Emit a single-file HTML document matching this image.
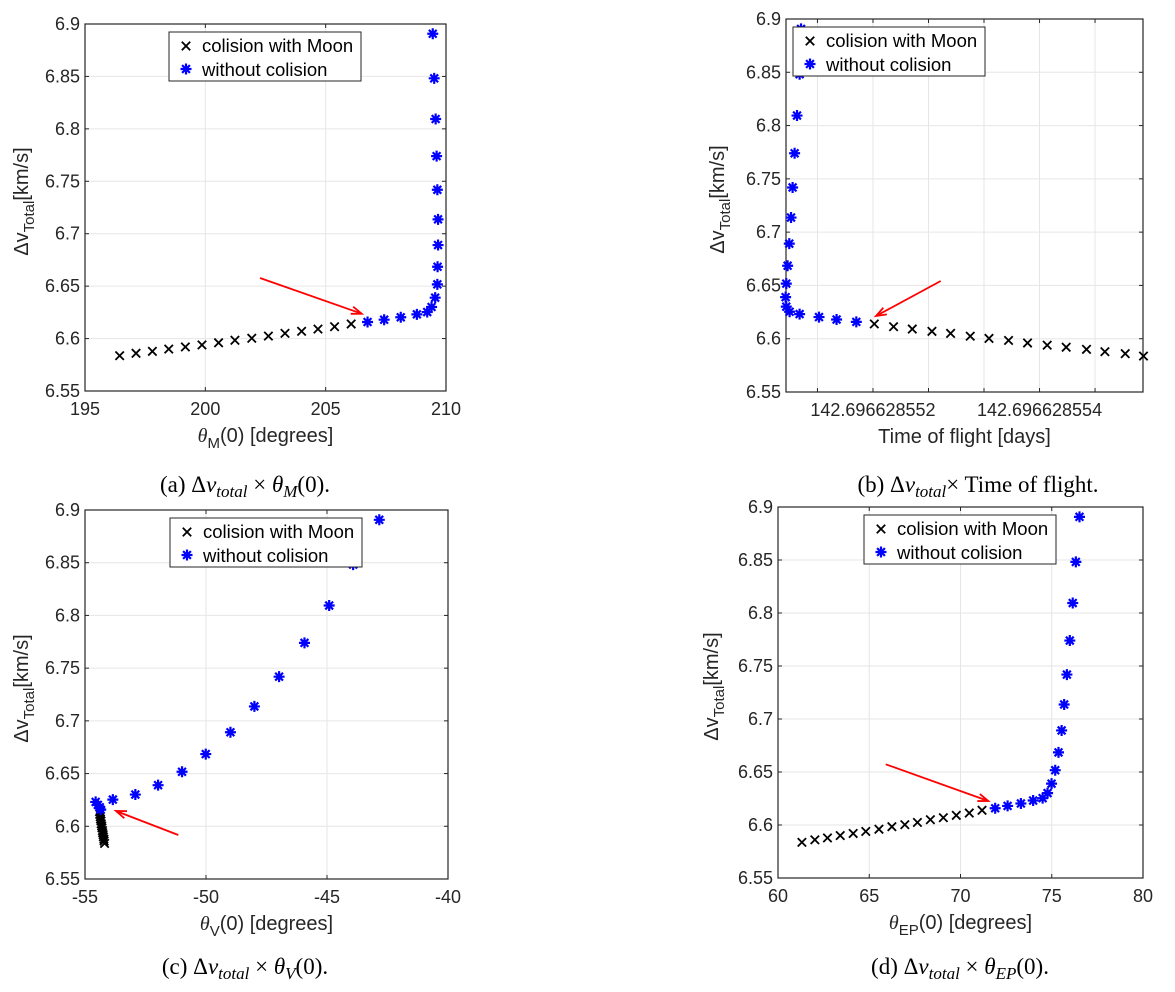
<!DOCTYPE html>
<html><head><meta charset="utf-8"><style>
body{margin:0;background:#fff;}
svg{display:block;font-family:"Liberation Sans",sans-serif;}
</style></head><body>
<svg id="fig" width="1175" height="992" viewBox="0 0 1175 992" xmlns="http://www.w3.org/2000/svg"></svg>
<script>
const yTicks = [6.55, 6.6, 6.65, 6.7, 6.75, 6.8, 6.85, 6.9];
const yTickLabels = ["6.55","6.6","6.65","6.7","6.75","6.8","6.85","6.9"];
const aColX = [196.44,197.12,197.80,198.48,199.17,199.86,200.55,201.23,201.93,202.62,203.31,204.00,204.68,205.37,206.06];
const aColY = [6.5837,6.586,6.5878,6.590,6.592,6.5939,6.596,6.5984,6.6003,6.6024,6.605,6.6069,6.6091,6.6113,6.6139];
const aFreeX = [206.74,207.43,208.12,208.79,209.22,209.40,209.55,209.64,209.65,209.67,209.67,209.64,209.61,209.57,209.51,209.45];
const aFreeY = [6.6158,6.618,6.6203,6.6231,6.6253,6.6301,6.639,6.6517,6.6685,6.6892,6.7137,6.7419,6.774,6.8094,6.8482,6.8907];
const aXTicks = [195,200,205,210];
const aXTickLabels = ["195","200","205","210"];
const bColX = [0.016,0.247,0.472,0.708,0.932,1.168,1.393,1.628,1.856,2.092,2.320,2.564,2.785,3.029,3.248];
const bColY = [6.6139,6.6113,6.6091,6.6069,6.605,6.6024,6.6003,6.5984,6.596,6.5939,6.592,6.590,6.5878,6.586,6.5837];
const bFreeX = [-0.200,-0.437,-0.648,-0.881,-1.001,-1.041,-1.049,-1.041,-1.025,-1.005,-0.984,-0.965,-0.941,-0.912,-0.881,-0.864];
const bFreeY = [6.6158,6.618,6.6203,6.6231,6.6253,6.6301,6.639,6.6517,6.6685,6.6892,6.7137,6.7419,6.774,6.8094,6.8482,6.8907];
const bXTicks = [-0.6667,0,0.6667,1.3333,2,2.6667];
const bXTickLabels = ["","142.696628552","","","142.696628554",""];
const cColX = [-54.40,-54.39,-54.37,-54.36,-54.34,-54.33,-54.31,-54.30,-54.28,-54.27,-54.25,-54.24,-54.22,-54.21,-54.19];
const cColY = [6.6139,6.6113,6.6091,6.6069,6.605,6.6024,6.6003,6.5984,6.596,6.5939,6.592,6.590,6.5878,6.586,6.5837];
const cFreeX = [-54.35,-54.39,-54.47,-54.56,-53.85,-52.92,-51.98,-50.99,-50.01,-48.99,-48.0,-46.98,-45.93,-44.91,-43.92,-42.84];
const cFreeY = [6.6158,6.618,6.6203,6.6231,6.6253,6.6301,6.639,6.6517,6.6685,6.6892,6.7137,6.7419,6.774,6.8094,6.8482,6.8907];
const cXTicks = [-55,-50,-45,-40];
const cXTickLabels = ["-55","-50","-45","-40"];
const dColX = [61.31,62.02,62.71,63.41,64.12,64.81,65.53,66.24,66.95,67.64,68.35,69.06,69.77,70.48,71.18];
const dColY = [6.5837,6.586,6.5878,6.590,6.592,6.5939,6.596,6.5984,6.6003,6.6024,6.605,6.6069,6.6091,6.6113,6.6139];
const dFreeX = [71.90,72.58,73.31,73.98,74.50,74.77,74.99,75.19,75.37,75.54,75.68,75.83,75.99,76.15,76.32,76.52];
const dFreeY = [6.6158,6.618,6.6203,6.6231,6.6253,6.6301,6.639,6.6517,6.6685,6.6892,6.7137,6.7419,6.774,6.8094,6.8482,6.8907];
const dXTicks = [60,65,70,75,80];
const dXTickLabels = ["60","65","70","75","80"];

const NS = "http://www.w3.org/2000/svg";
const svg = document.getElementById("fig");
function mk(tag, attrs, parent){
  const e = document.createElementNS(NS, tag);
  for (const k in attrs) e.setAttribute(k, attrs[k]);
  (parent||svg).appendChild(e);
  return e;
}
function xMark(g, x, y){
  const s = 4.2;
  const p = mk("path", {d:`M${x-s},${y-s}L${x+s},${y+s}M${x-s},${y+s}L${x+s},${y-s}`, stroke:"#000", "stroke-width":1.8, fill:"none"}, g);
  
  
}
function starMark(g, x, y){
  const r = 5.5, d = 3.9;
  const p = mk("path", {d:`M${x},${y-r}L${x},${y+r}M${x-r},${y}L${x+r},${y}M${x-d},${y-d}L${x+d},${y+d}M${x-d},${y+d}L${x+d},${y-d}`, stroke:"#0000ff", "stroke-width":2.2, fill:"none"}, g);
  
  
}
function panel(id, box, xmin, xmax, xTicks, xTickLabels, colX, colY, freeX, freeY, legend, arrow, ylabX, xTitle, caption){
  const g = mk("g", {});
  
  
  const sx = v => box.L + (v - xmin) / (xmax - xmin) * (box.R - box.L);
  const sy = v => box.B - (v - 6.55) / (0.35) * (box.B - box.T);
  xTicks.forEach(t => {
    const x = sx(t);
    mk("line", {x1:x, x2:x, y1:box.T, y2:box.B, stroke:"#e6e6e6", "stroke-width":1}, g);
  });
  yTicks.forEach(t => {
    const y = sy(t);
    mk("line", {x1:box.L, x2:box.R, y1:y, y2:y, stroke:"#e6e6e6", "stroke-width":1}, g);
  });
  xTicks.forEach((t,i) => {
    const x = sx(t);
    mk("line", {x1:x, x2:x, y1:box.B, y2:box.B-4, stroke:"#262626"}, g);
    mk("line", {x1:x, x2:x, y1:box.T, y2:box.T+4, stroke:"#262626"}, g);
    if (xTickLabels[i]) {
      const tx = mk("text", {x:x, y:box.B+24, "text-anchor":"middle", "font-size":18, fill:"#262626"}, g);
      tx.textContent = xTickLabels[i];
      
      
    }
  });
  yTicks.forEach((t,i) => {
    const y = sy(t);
    mk("line", {x1:box.L, x2:box.L+4, y1:y, y2:y, stroke:"#262626"}, g);
    mk("line", {x1:box.R, x2:box.R-4, y1:y, y2:y, stroke:"#262626"}, g);
    const ty = mk("text", {x:box.L-5, y:y+6, "text-anchor":"end", "font-size":18, fill:"#262626"}, g);
    ty.textContent = yTickLabels[i];
    
    
  });
  const fr = mk("rect", {x:box.L, y:box.T, width:box.R-box.L, height:box.B-box.T, fill:"none", stroke:"#262626", "stroke-width":1.2}, g);
  
  
  colX.forEach((v,i) => xMark(g, sx(v), sy(colY[i])));
  freeX.forEach((v,i) => starMark(g, sx(v), sy(freeY[i])));
  const ar = mk("g", {}, g);
  
  
  const [x1,y1,x2,y2] = arrow;
  mk("line", {x1:x1, y1:y1, x2:x2, y2:y2, stroke:"#ff0000", "stroke-width":1.8}, ar);
  const ang = Math.atan2(y2-y1, x2-x1), L = 11, W = 0.35;
  mk("path", {d:`M${x2 - L*Math.cos(ang-W)},${y2 - L*Math.sin(ang-W)}L${x2},${y2}L${x2 - L*Math.cos(ang+W)},${y2 - L*Math.sin(ang+W)}`, stroke:"#ff0000", "stroke-width":1.8, fill:"none"}, ar);
  const lg = mk("g", {}, g);
  
  
  mk("rect", {x:legend[0], y:legend[1], width:192, height:49, fill:"#fff", stroke:"#262626", "stroke-width":1}, lg);
  xMark(lg, legend[0]+17, legend[1]+14);
  starMark(lg, legend[0]+17, legend[1]+37);
  const l1 = mk("text", {x:legend[0]+33, y:legend[1]+20, "font-size":18.5, fill:"#000"}, lg);
  l1.textContent = "colision with Moon";
  
  
  const l2 = mk("text", {x:legend[0]+33, y:legend[1]+44, "font-size":18.5, fill:"#000"}, lg);
  l2.textContent = "without colision";
  
  
  const cy = (box.T + box.B) / 2 - 6;
  const yt = mk("text", {transform:`translate(${ylabX},${cy}) rotate(-90)`, "text-anchor":"middle", "font-size":20, fill:"#262626"}, g);
  yt.innerHTML = 'Δv<tspan font-size="15" dy="6">Total</tspan><tspan dy="-6">[km/s]</tspan>';
  
  
  const xt = mk("text", {x:(box.L+box.R)/2, y:box.B+51, "text-anchor":"middle", "font-size":20, fill:"#262626"}, g);
  xt.innerHTML = xTitle;
  
  
  const cp = mk("text", {x:caption[0], y:caption[1], "text-anchor":"middle", "font-size":23, fill:"#000", "font-family":"Liberation Serif, serif"}, g);
  cp.innerHTML = caption[2];
  
  
}
const th = '<tspan font-family="Liberation Serif, serif" font-style="italic">θ</tspan>';
panel("a", {L:85,R:446,T:24,B:391}, 195, 210, aXTicks, aXTickLabels, aColX, aColY, aFreeX, aFreeY,
  [169,32], [260,278,361.7,313.7], 28, th+'<tspan font-size="15" dy="6">M</tspan><tspan dy="-6">(0) [degrees]</tspan>',
  [245,492,'(a) Δ<tspan font-style="italic">v</tspan><tspan font-style="italic" font-size="17" dy="5">total</tspan><tspan dy="-5"> × </tspan><tspan font-style="italic">θ</tspan><tspan font-style="italic" font-size="17" dy="5">M</tspan><tspan dy="-5">(0).</tspan>']);
panel("b", {L:786,R:1143,T:19,B:392}, -1.0444, 3.2424, bXTicks, bXTickLabels, bColX, bColY, bFreeX, bFreeY,
  [793,27], [940.7,281,876,316], 724, 'Time of flight [days]',
  [978,492,'(b) Δ<tspan font-style="italic">v</tspan><tspan font-style="italic" font-size="17" dy="5">total</tspan><tspan dy="-5">× Time of flight.</tspan>']);
panel("c", {L:85,R:448,T:510,B:879}, -55, -40, cXTicks, cXTickLabels, cColX, cColY, cFreeX, cFreeY,
  [170,518], [178.3,835,116,811], 28, th+'<tspan font-size="15" dy="6">V</tspan><tspan dy="-6">(0) [degrees]</tspan>',
  [245,974,'(c) Δ<tspan font-style="italic">v</tspan><tspan font-style="italic" font-size="17" dy="5">total</tspan><tspan dy="-5"> × </tspan><tspan font-style="italic">θ</tspan><tspan font-style="italic" font-size="17" dy="5">V</tspan><tspan dy="-5">(0).</tspan>']);
panel("d", {L:778,R:1143,T:507,B:878}, 60, 80, dXTicks, dXTickLabels, dColX, dColY, dFreeX, dFreeY,
  [864,515], [885.7,764.3,988.3,801], 718, th+'<tspan font-size="15" dy="6">EP</tspan><tspan dy="-6">(0) [degrees]</tspan>',
  [960,974,'(d) Δ<tspan font-style="italic">v</tspan><tspan font-style="italic" font-size="17" dy="5">total</tspan><tspan dy="-5"> × </tspan><tspan font-style="italic">θ</tspan><tspan font-style="italic" font-size="17" dy="5">EP</tspan><tspan dy="-5">(0).</tspan>']);
</script>
</body></html>
